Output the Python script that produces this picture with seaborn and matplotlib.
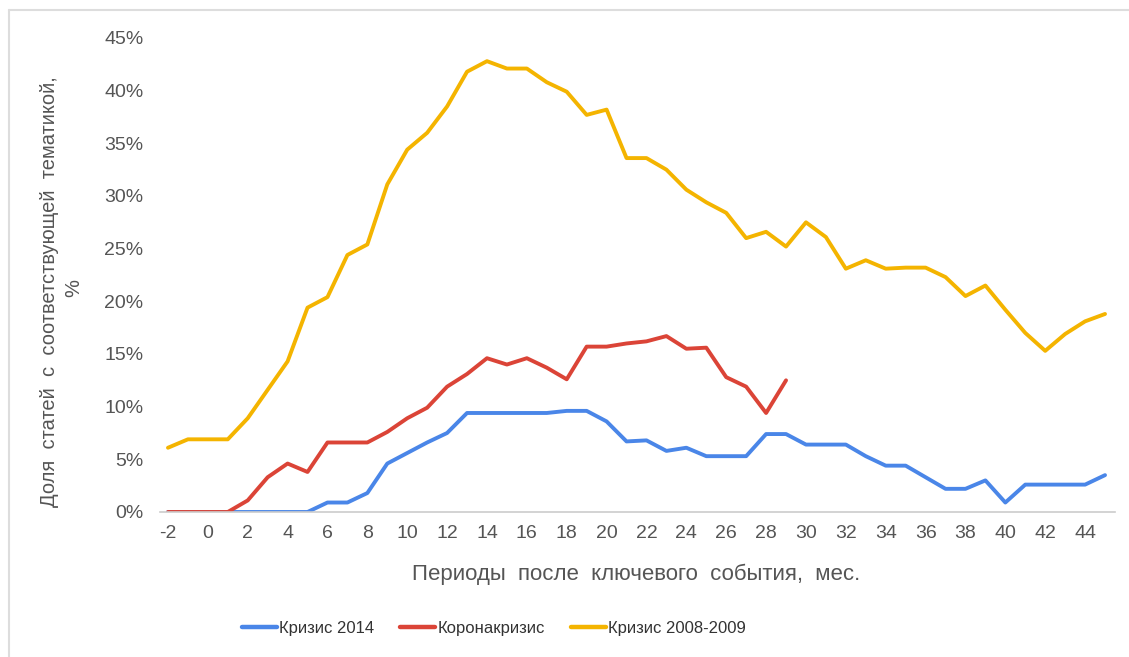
import numpy as np
import pandas as pd
import matplotlib
matplotlib.use("Agg")
import matplotlib.pyplot as plt
import seaborn as sns

periods = list(range(-2, 46))

crisis_2014 = [0, 0, 0, 0, 0, 0, 0, 0, 0.9, 0.9, 1.8, 4.6, 5.6, 6.6, 7.5, 9.4,
               9.4, 9.4, 9.4, 9.4, 9.6, 9.6, 8.6, 6.7, 6.8, 5.8, 6.1, 5.3, 5.3, 5.3,
               7.4, 7.4, 6.4, 6.4, 6.4, 5.3, 4.4, 4.4, 3.3, 2.2, 2.2, 3.0, 0.9, 2.6,
               2.6, 2.6, 2.6, 3.5]

corona = [0, 0, 0, 0, 1.1, 3.3, 4.6, 3.8, 6.6, 6.6, 6.6, 7.6, 8.9, 9.9, 11.9, 13.1,
          14.6, 14.0, 14.6, 13.7, 12.6, 15.7, 15.7, 16.0, 16.2, 16.7, 15.5, 15.6,
          12.8, 11.9, 9.4, 12.5] + [np.nan] * 16

crisis_2008 = [6.1, 6.9, 6.9, 6.9, 8.9, 11.6, 14.3, 19.4, 20.4, 24.4, 25.4, 31.1,
               34.4, 36.0, 38.5, 41.8, 42.8, 42.1, 42.1, 40.8, 39.9, 37.7, 38.2,
               33.6, 33.6, 32.5, 30.6, 29.4, 28.4, 26.0, 26.6, 25.2, 27.5, 26.1,
               23.1, 23.9, 23.1, 23.2, 23.2, 22.3, 20.5, 21.5, 19.2, 17.0, 15.3,
               16.9, 18.1, 18.8]

series_names = ["Кризис 2014", "Коронакризис", "Кризис 2008-2009"]
colors = ["#4a86e8", "#db4437", "#f4b400"]

y_ticks = [0, 5, 10, 15, 20, 25, 30, 35, 40, 45]
x_ticks = list(range(-2, 46, 2))

df = pd.DataFrame({"period": periods,
                   series_names[0]: crisis_2014,
                   series_names[1]: corona,
                   series_names[2]: crisis_2008})
long = df.melt(id_vars="period", var_name="series", value_name="value")

sns.set_theme(style="white")
plt.rcParams["font.family"] = ["Liberation Sans", "DejaVu Sans"]

W, H = 1129, 657
fig = plt.figure(figsize=(W / 100, H / 100), dpi=100)
ax = fig.add_axes([160 / W, 1 - 512 / H, (1115 - 160) / W, (512 - 38) / H])

sns.lineplot(data=long, x="period", y="value", hue="series",
             hue_order=series_names, palette=colors, linewidth=2.8,
             ax=ax, legend=False, sort=False)

ax.set_xlim(-2.4, 45.5)
ax.set_ylim(0, 45)
ax.set_xticks(x_ticks)
ax.set_xticklabels([str(v) for v in x_ticks])
ax.set_yticks(y_ticks)
ax.set_yticklabels([f"{v}%" for v in y_ticks])
ax.tick_params(axis="both", length=0, labelsize=14, colors="#555555")
ax.tick_params(axis="y", pad=12)
ax.tick_params(axis="x", pad=9)
for s in ["top", "right", "left"]:
    ax.spines[s].set_visible(False)
ax.spines["bottom"].set_color("#cccccc")
ax.spines["bottom"].set_linewidth(1.2)
ax.set_xlabel("")
ax.set_ylabel("")

fig.text(636 / W, 1 - 580 / H, "Периоды  после  ключевого  события,  мес.",
         ha="center", va="baseline", fontsize=16, color="#555555")
fig.text(50 / W, 1 - 292 / H, "Доля  статей  с  соответствующей  тематикой,",
         ha="center", va="center", rotation=90, fontsize=14.5, color="#555555")
fig.text(74 / W, 1 - 288 / H, "%", ha="center", va="center", rotation=90,
         fontsize=14.5, color="#555555")

handles = [plt.Line2D([], [], color=c, linewidth=3.2) for c in colors]
fig.legend(handles, series_names, loc="center", bbox_to_anchor=(494 / W, 1 - 628 / H),
           ncol=3, frameon=False, fontsize=12, handlelength=2.1, handletextpad=0.12,
           columnspacing=1.6, labelcolor="#333333")

# thin border at left and top as in the reference screenshot
fig.add_artist(plt.Line2D([8.5 / W, 8.5 / W], [0, 1 - 10 / H], color="#dddddd",
                          linewidth=1.5, transform=fig.transFigure))
fig.add_artist(plt.Line2D([8.5 / W, 1], [1 - 10 / H, 1 - 10 / H], color="#dddddd",
                          linewidth=1.5, transform=fig.transFigure))

fig.savefig("out.png", dpi=100, facecolor="white")
